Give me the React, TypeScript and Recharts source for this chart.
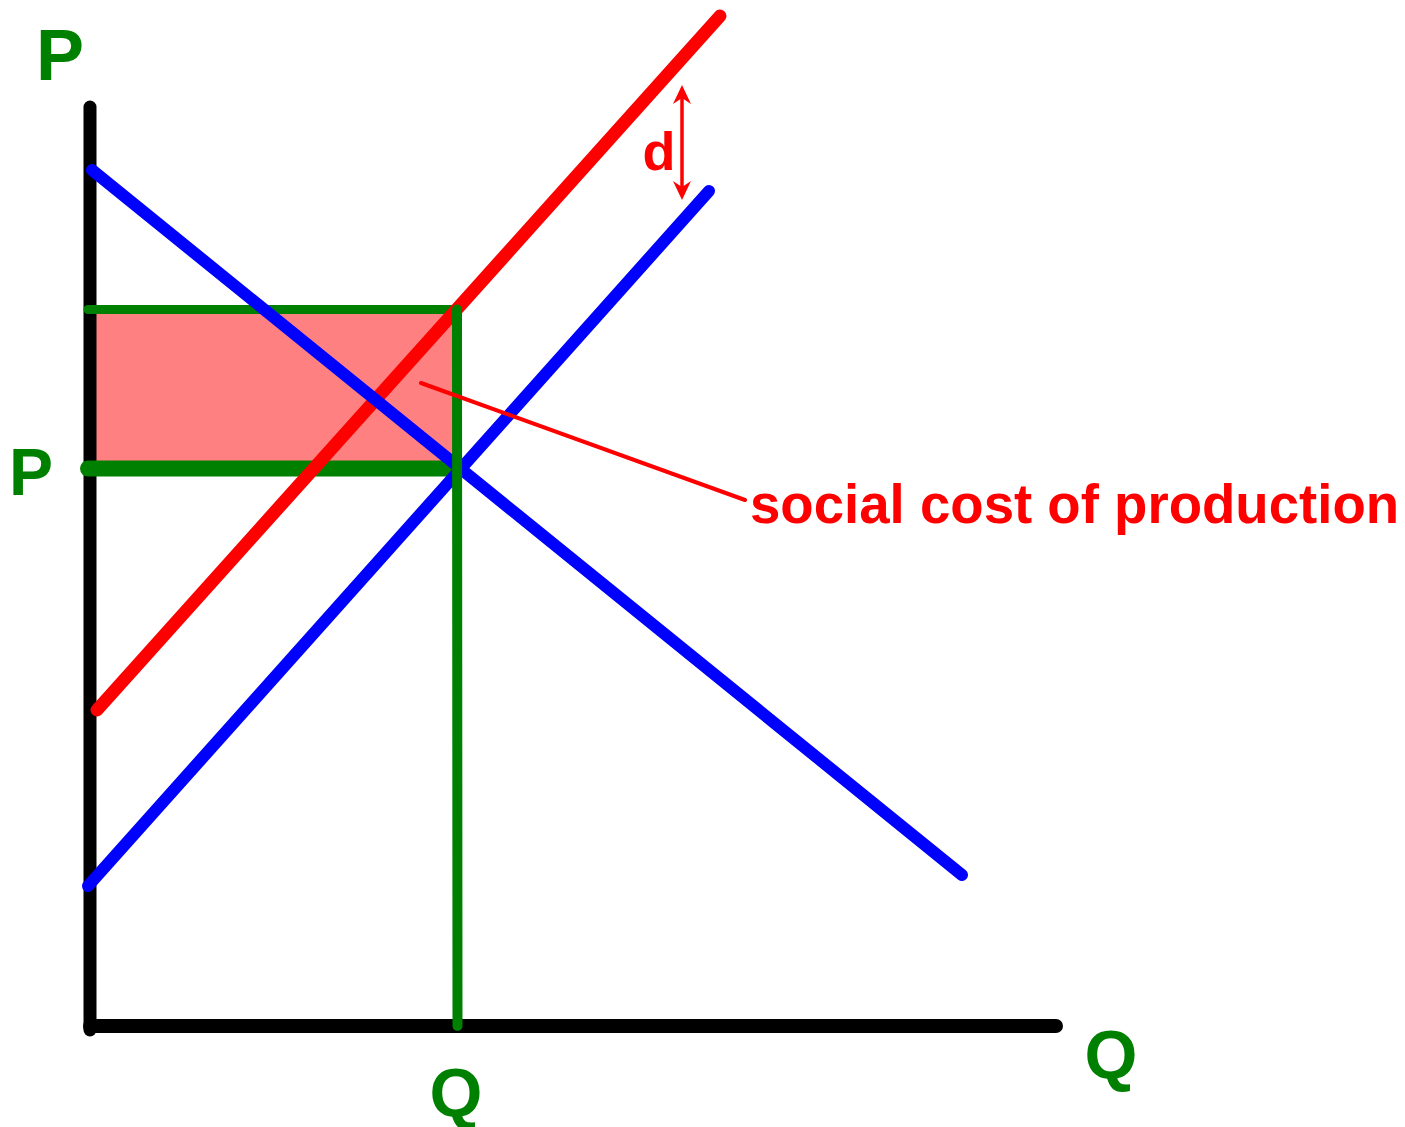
import {
  Area,
  ComposedChart,
  Line,
  ReferenceDot,
  ReferenceLine,
  XAxis,
  YAxis,
} from "recharts";

type Pt = { q: number; p: number };

// curves (q = quantity, p = price)
const demand: Pt[] = [
  { q: 0.01, p: 8.56 },
  { q: 8.71, p: 1.51 },
];
const supply: Pt[] = [
  { q: -0.03, p: 1.4 },
  { q: 6.18, p: 8.35 },
];
const socialCost: Pt[] = [
  { q: 0.06, p: 3.16 },
  { q: 6.29, p: 10.1 },
];

// axes
const priceAxis: Pt[] = [
  { q: -0.01, p: 9.19 },
  { q: -0.01, p: -0.04 },
];
const quantityAxis: Pt[] = [
  { q: -0.01, p: 0 },
  { q: 9.65, p: 0 },
];

// guide lines
const socialPriceLine: Pt[] = [
  { q: -0.03, p: 7.165 },
  { q: 3.65, p: 7.165 },
];
const marketPriceLine: Pt[] = [
  { q: -0.03, p: 5.575 },
  { q: 3.64, p: 5.575 },
];
const quantityLine: Pt[] = [
  { q: 3.66, p: 7.165 },
  { q: 3.665, p: 0 },
];

// shaded social cost box
const costBox: Pt[] = [
  { q: 0, p: 7.165 },
  { q: 3.66, p: 7.165 },
];
const costBoxBase = 5.575;

// pointer from box to label
const pointer: Pt[] = [
  { q: 3.3, p: 6.43 },
  { q: 6.54, p: 5.26 },
];

// the gap "d" between the two supply curves
const gapArrow = { q: 5.91, top: 9.41, bottom: 8.26 };

const axisLabels = [
  { text: "P", q: -0.31, p: 9.46, size: 72 },
  { text: "P", q: -0.6, p: 5.31, size: 66 },
  { text: "Q", q: 3.65, p: -0.9, size: 68 },
  { text: "Q", q: 10.2, p: -0.52, size: 68 },
];
const gapLabel = { text: "d", q: 5.68, p: 8.56 };
const boxLabel = { text: "social cost of production", q: 6.59, p: 5.03 };

const GREEN = "#008000";
const RED = "#ff0000";
const BLUE = "#0000ff";
const FONT = "'Liberation Sans', Arial, sans-serif";

const DoubleArrow = (props: any) => {
  const { x1, y1, y2 } = props;
  const top = Math.min(y1, y2);
  const bot = Math.max(y1, y2);
  return (
    <g>
      <line x1={x1} y1={top + 10} x2={x1} y2={bot - 10} stroke={RED} strokeWidth={3.5} />
      <polygon
        points={`${x1},${top} ${x1 - 9},${top + 19} ${x1},${top + 13} ${x1 + 9},${top + 19}`}
        fill={RED}
      />
      <polygon
        points={`${x1},${bot} ${x1 - 9},${bot - 19} ${x1},${bot - 13} ${x1 + 9},${bot - 19}`}
        fill={RED}
      />
    </g>
  );
};

const textShape =
  (text: string, size: number, color: string, anchor: "start" | "middle") =>
  (props: any) => (
    <text
      x={props.cx}
      y={props.cy}
      fill={color}
      fontSize={size}
      fontWeight="bold"
      fontFamily={FONT}
      textAnchor={anchor}
    >
      {text}
    </text>
  );

const seg = (data: Pt[], color: string, width: number, key: string) => (
  <Line
    key={key}
    data={data}
    dataKey="p"
    type="linear"
    stroke={color}
    strokeWidth={width}
    strokeLinecap="round"
    dot={false}
    activeDot={false}
    isAnimationActive={false}
  />
);

export default function App() {
  return (
    <div style={{ position: "absolute", left: 0, top: 0, background: "#fff" }}>
      <ComposedChart
        width={1405}
        height={1127}
        margin={{ top: 6, right: 105, bottom: 0, left: 0 }}
      >
        <XAxis dataKey="q" type="number" domain={[-0.91, 12.09]} hide />
        <YAxis type="number" domain={[-1.01, 10.2]} hide />
        <Area
          data={costBox}
          dataKey="p"
          type="linear"
          baseValue={costBoxBase}
          fill="#ff8080"
          fillOpacity={1}
          stroke="none"
          isAnimationActive={false}
        />
        {seg(priceAxis, "#000", 13, "pa")}
        {seg(quantityAxis, "#000", 14, "qa")}
        {seg(marketPriceLine, GREEN, 16, "mp")}
        {seg(socialPriceLine, GREEN, 9, "sp")}
        {seg(socialCost, RED, 13, "sc")}
        {seg(demand, BLUE, 12, "d")}
        {seg(supply, BLUE, 12, "s")}
        {seg(quantityLine, GREEN, 10, "ql")}
        {seg(pointer, RED, 4, "pt")}
        <ReferenceLine
          segment={[
            { x: gapArrow.q, y: gapArrow.top },
            { x: gapArrow.q, y: gapArrow.bottom },
          ]}
          shape={DoubleArrow}
        />
        {axisLabels.map((l, i) => (
          <ReferenceDot
            key={"al" + i}
            x={l.q}
            y={l.p}
            r={0}
            shape={textShape(l.text, l.size, GREEN, "middle")}
          />
        ))}
        <ReferenceDot
          x={gapLabel.q}
          y={gapLabel.p}
          r={0}
          shape={textShape(gapLabel.text, 54, RED, "middle")}
        />
        <ReferenceDot
          x={boxLabel.q}
          y={boxLabel.p}
          r={0}
          shape={textShape(boxLabel.text, 54.6, RED, "start")}
        />
      </ComposedChart>
    </div>
  );
}
